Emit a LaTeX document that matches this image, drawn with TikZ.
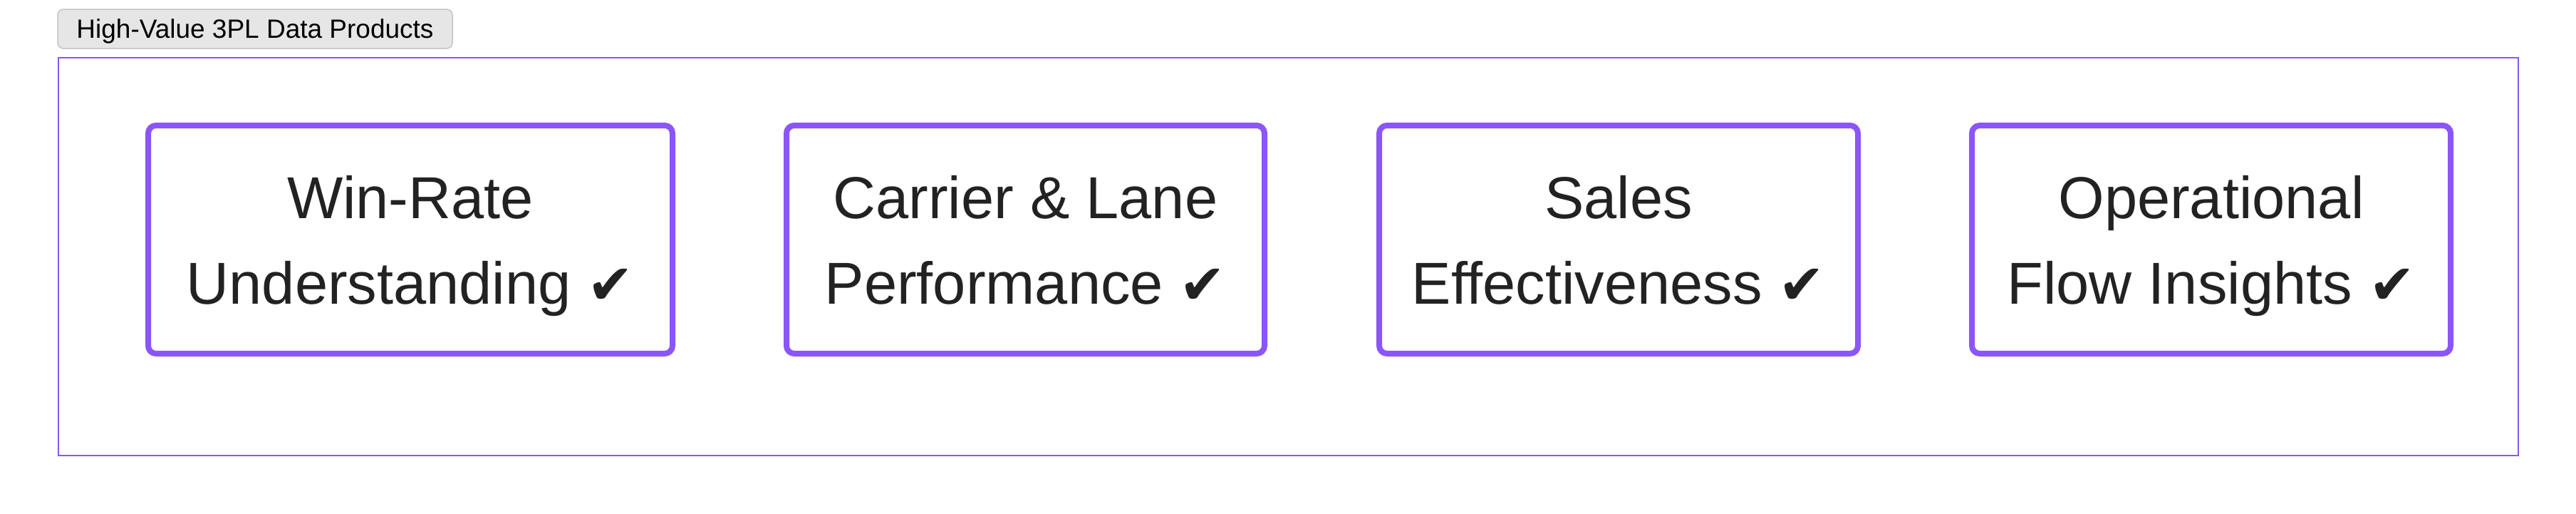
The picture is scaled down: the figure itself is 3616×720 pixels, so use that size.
\documentclass[tikz,border=0pt]{standalone}
\usepackage{fontspec}
\setmainfont{Liberation Sans}
\newfontfamily\symfont{DejaVu Sans}
\definecolor{prp}{HTML}{8B55FB}
\definecolor{ink}{HTML}{222222}
\definecolor{lblfill}{HTML}{E6E6E6}
\definecolor{lbldraw}{HTML}{C4C4C4}
\newcommand{\chk}{{\symfont\fontsize{78}{120}\selectfont ✔}}
\newcommand{\topstrut}{\rule{0pt}{80pt}}
\newcommand{\botstrut}{\rule[-20pt]{0pt}{20pt}}
\begin{document}
\begin{tikzpicture}[x=1pt,y=-1pt,
  prod/.style={draw=prp, line width=8pt, rounded corners=11pt, inner sep=0pt,
    minimum height=320pt, align=center, text=ink,
    font=\fontsize{83}{120}\selectfont},
  lblbox/.style={draw=lbldraw, fill=lblfill, line width=1.5pt, rounded corners=8pt,
    inner sep=0pt, minimum width=554pt, minimum height=55pt, text height=26.5pt,
    text depth=0pt, font=\fontsize{37}{44}\selectfont, text=black},
  cluster/.style={draw=prp, line width=2.5pt, inner sep=0pt,
    minimum width=3453pt, minimum height=558pt}]
\fill[white] (0,0) rectangle (3616,720);
\useasboundingbox (0,0) rectangle (3616,720);
\node[cluster] (grp) at (1808.5,360) {};
\node[lblbox] (title) at (358,40.5) {High-Value 3PL Data Products};
\node[prod, minimum width=736pt] (p1) at (576,336)
  {\topstrut Win-Rate\\Understanding~\chk\botstrut};
\node[prod, minimum width=671pt] (p2) at (1439.5,336)
  {\topstrut Carrier \& Lane\\Performance~\chk\botstrut};
\node[prod, minimum width=672pt] (p3) at (2272,336)
  {\topstrut Sales\\Effectiveness~\chk\botstrut};
\node[prod, minimum width=672pt] (p4) at (3104,336)
  {\topstrut Operational\\Flow Insights~\chk\botstrut};
\end{tikzpicture}
\end{document}
